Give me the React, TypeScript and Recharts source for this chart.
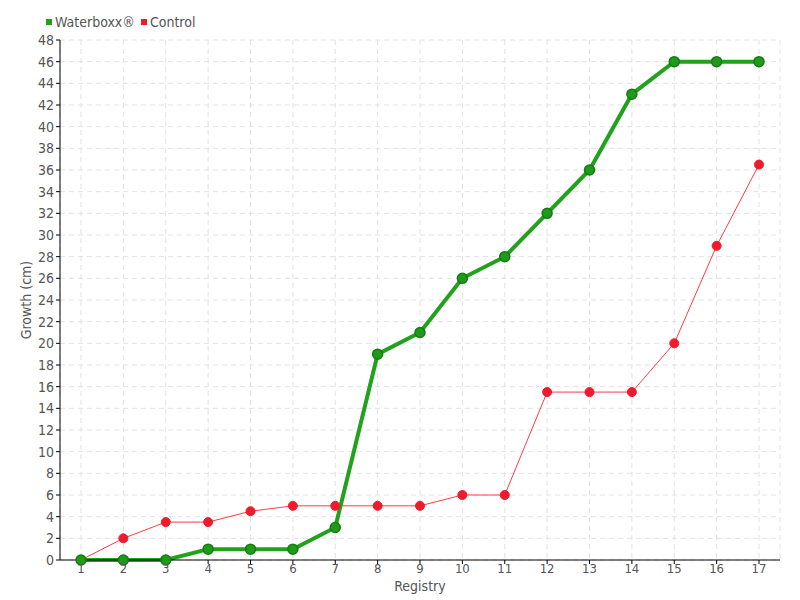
import {
  LineChart,
  Line,
  XAxis,
  YAxis,
  CartesianGrid,
  Legend,
} from "recharts";

const registry = ["1", "2", "3", "4", "5", "6", "7", "8", "9", "10", "11", "12", "13", "14", "15", "16", "17"];
const waterboxx = [0, 0, 0, 1, 1, 1, 3, 19, 21, 26, 28, 32, 36, 43, 46, 46, 46];
const control = [0, 2, 3.5, 3.5, 4.5, 5, 5, 5, 5, 6, 6, 15.5, 15.5, 15.5, 20, 29, 36.5];
const yTicks = Array.from({ length: 25 }, (_, i) => i * 2);

const data = registry.map((r, i) => ({
  registry: r,
  waterboxx: waterboxx[i],
  control: control[i],
}));

const FONT = "'DejaVu Sans Condensed', 'Liberation Sans Narrow', sans-serif";
const GREEN = "#21a11c";
const RED = "#ef1b2d";

function LegendContent() {
  const items = [
    { label: "Waterboxx®", color: GREEN },
    { label: "Control", color: RED },
  ];
  return (
    <div
      style={{
        display: "flex",
        fontFamily: FONT,
        fontStretch: "condensed",
        fontSize: 14,
        color: "#555",
      }}
    >
      {items.map((it) => (
        <div key={it.label} style={{ display: "flex", alignItems: "center", marginRight: 6 }}>
          <span
            style={{ width: 6, height: 6, background: it.color, display: "inline-block", marginRight: 3 }}
          />
          {it.label}
        </div>
      ))}
    </div>
  );
}

const tickStyle = { fill: "#555", fontSize: 14, fontFamily: FONT, fontStretch: "condensed" };

export default function App() {
  return (
    <div style={{ position: "absolute", left: 0, top: 0, width: 800, height: 600, background: "#fff" }}>
      <LineChart
        width={800}
        height={600}
        data={data}
        margin={{ top: 20, right: 20, left: 0, bottom: 0 }}
      >
        <CartesianGrid stroke="#e2e2e2" strokeDasharray="5 4" />
        <XAxis
          dataKey="registry"
          height={40}
          stroke="#000"
          padding={{ left: 21, right: 21 }}
          tick={{ ...tickStyle, fontSize: 13 }}
          tickSize={4}
          tickMargin={0}
          label={{
            value: "Registry",
            position: "insideBottom",
            offset: 9,
            ...tickStyle,
          }}
        />
        <YAxis
          width={60}
          domain={[0, 48]}
          ticks={yTicks}
          interval={0}
          stroke="#000"
          tick={tickStyle}
          tickSize={4}
          label={{
            value: "Growth (cm)",
            angle: -90,
            position: "insideLeft",
            offset: 26,
            style: { textAnchor: "middle" },
            ...tickStyle,
          }}
        />
        <Legend
          verticalAlign="top"
          align="left"
          content={<LegendContent />}
          wrapperStyle={{ top: 14, left: 46, height: 20 }}
        />
        <Line
          type="linear"
          dataKey="control"
          stroke="#ff3b4b"
          strokeWidth={1}
          dot={{ r: 4.5, fill: RED, stroke: RED, strokeWidth: 1 }}
          isAnimationActive={false}
        />
        <Line
          type="linear"
          dataKey="waterboxx"
          stroke={GREEN}
          strokeWidth={4}
          dot={{ r: 5, fill: "#1f9a1a", stroke: "#157d12", strokeWidth: 1.5 }}
          isAnimationActive={false}
        />
      </LineChart>
    </div>
  );
}
